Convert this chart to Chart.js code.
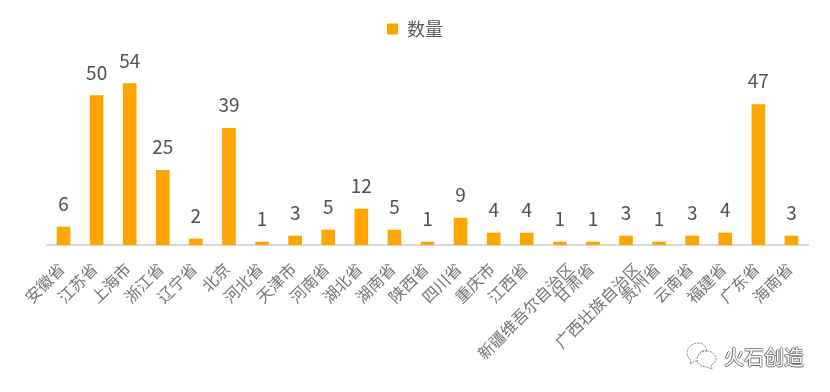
<!DOCTYPE html>
<html>
<head>
<meta charset="utf-8">
<script src="https://cdn.jsdelivr.net/npm/chart.js@4/dist/chart.umd.min.js"></script>
<style>
    html, body { margin: 0; padding: 0; background: #fff; }
    #wrap { position: relative; width: 830px; height: 392px; overflow: hidden; }
    #mark { position: absolute; left: 724px; top: 342px; font: 20px "Noto Sans CJK SC"; color: #fff; letter-spacing: 0;
        text-shadow: -1px 0 0 #666, 0 1px 0 #666, 1px 0 0 #999, 0 -1px 0 #888; }
    #icon { position: absolute; left: 685px; top: 341px; }
</style>
</head>
<body>
<div id="wrap">
    <canvas id="chart" width="830" height="392"></canvas>
    <svg id="icon" width="34" height="30" fill="#fff" stroke="#888" stroke-width="1" stroke-dasharray="2 1">
        <path d="M14 2 C6 2 2 7 2 12 C2 15 4 18 6 19 L5 23 L10 20 L13 20 C11 14 16 9 22 9 C20 5 18 2 14 2 Z"/>
        <path d="M22 10 C16 10 12 14 12 18 C12 23 17 26 22 26 L27 28 L26 24 C29 23 31 20 31 18 C31 14 27 10 22 10 Z"/>
    </svg>
    <div id="mark">火石创造</div>
</div>
<script>
const categories = ['安徽省', '江苏省', '上海市', '浙江省', '辽宁省', '北京', '河北省', '天津市', '河南省', '湖北省', '湖南省', '陕西省', '四川省', '重庆市', '江西省', '新疆维吾尔自治区', '甘肃省', '广西壮族自治区', '贵州省', '云南省', '福建省', '广东省', '海南省'];
const counts = [6, 50, 54, 25, 2, 39, 1, 3, 5, 12, 5, 1, 9, 4, 4, 1, 1, 3, 1, 3, 4, 47, 3];
const seriesName = '数量';
const fontFamily = '"Noto Sans CJK SC", "Noto Sans", sans-serif';

// value labels above each bar
const valueLabels = {
    id: 'valueLabels',
    afterDatasetsDraw(chart) {
        const ctx = chart.ctx;
        ctx.save();
        ctx.font = '19px ' + fontFamily;
        ctx.fillStyle = '#505050';
        ctx.textAlign = 'center';
        ctx.textBaseline = 'alphabetic';
        chart.getDatasetMeta(0).data.forEach((bar, i) => {
            ctx.fillText(counts[i], bar.x, bar.y - 16);
        });
        ctx.restore();
    }
};

// rotated category labels, the long ones sit further right like the original
const slantedLabels = {
    id: 'slantedLabels',
    afterDraw(chart) {
        const ctx = chart.ctx;
        const scale = chart.scales.x;
        ctx.save();
        ctx.font = '16px ' + fontFamily;
        ctx.fillStyle = '#757575';
        ctx.textAlign = 'right';
        ctx.textBaseline = 'middle';
        categories.forEach((name, i) => {
            const shift = name.length > 3 ? 11 : -2;
            ctx.save();
            ctx.translate(scale.getPixelForTick(i) + shift, scale.top + 21);
            ctx.rotate(-Math.PI / 4);
            ctx.fillText(name, 0, 0);
            ctx.restore();
        });
        ctx.restore();
    }
};

new Chart(document.getElementById('chart').getContext('2d'), {
    type: 'bar',
    data: {
        labels: categories,
        datasets: [{
            label: seriesName,
            data: counts,
            backgroundColor: '#ffa500',
            barThickness: 13
        }]
    },
    options: {
        responsive: false,
        animation: false,
        layout: { padding: { left: 22, right: 22, top: 2, bottom: 0 } },
        plugins: {
            tooltip: { enabled: false },
            legend: {
                position: 'top',
                labels: {
                    boxWidth: 11,
                    boxHeight: 11,
                    padding: 18,
                    color: '#595959',
                    font: { size: 18, family: fontFamily }
                }
            }
        },
        scales: {
            x: {
                grid: { display: false, drawTicks: false },
                border: { color: '#d9d9d9', width: 2 },
                afterFit(scale) { scale.height = 147; },
                ticks: { display: false, autoSkip: false }
            },
            y: {
                min: 0,
                max: 65.9,
                grid: { display: false, drawTicks: false },
                border: { display: false },
                ticks: { display: false },
                afterFit(scale) { scale.width = 25; }
            }
        }
    },
    plugins: [valueLabels, slantedLabels]
});
</script>
</body>
</html>
